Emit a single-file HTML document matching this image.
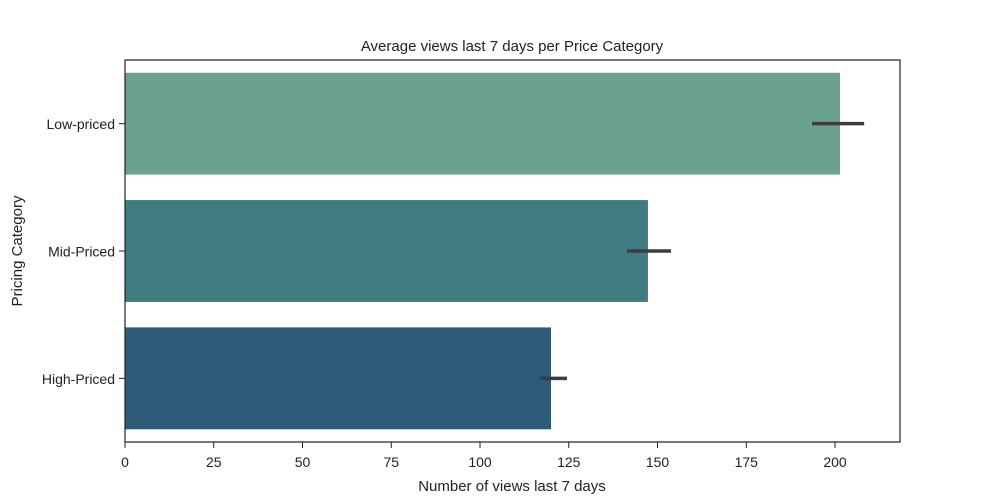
<!DOCTYPE html>
<html><head><meta charset="utf-8"><style>
body{margin:0;background:#fff;}
svg{display:block;font-family:"Liberation Sans","DejaVu Sans",sans-serif;}
</style></head><body>
<svg id="chart" width="1000" height="500">
<text x="512" y="51" text-anchor="middle" font-size="15" fill="#222">Average views last 7 days per Price Category</text>
<g id="bars"></g>
<g id="xticks"></g>
<g id="yticks"></g>
<rect x="125" y="60" width="775" height="382" fill="none" stroke="#222" stroke-width="1.2"/>
<text x="512" y="491" text-anchor="middle" font-size="15" fill="#222">Number of views last 7 days</text>
<text transform="translate(22,251) rotate(-90)" text-anchor="middle" font-size="15" fill="#222">Pricing Category</text>
</svg>
<script>
const categories=["Low-priced","Mid-Priced","High-Priced"];
const values=[201.4,147.3,120.0];
const errLow=[193.5,141.4,116.9];
const errHigh=[208.2,153.8,124.5];
const xTicks=[0,25,50,75,100,125,150,175,200];
const colors=["#6aa28f","#3f7b81","#2d5b78"];
const L=125,T=60,W=775,H=382,XMAX=218.3;
const x=v=>L+v/XMAX*W;
const band=H/categories.length;
const y=i=>T+band*(i+0.5);
const NS="http://www.w3.org/2000/svg";
function mk(t,a,p){const e=document.createElementNS(NS,t);for(const k in a)e.setAttribute(k,a[k]);p.appendChild(e);return e;}
const gb=document.getElementById('bars'),gx=document.getElementById('xticks'),gy=document.getElementById('yticks');
categories.forEach((c,i)=>{
 const bh=band*0.8;
 const r=mk('rect',{x:x(0),y:y(i)-bh/2,width:x(values[i])-x(0),height:bh,fill:colors[i]},gb);
 
 
 const e=mk('line',{x1:x(errLow[i]),x2:x(errHigh[i]),y1:y(i),y2:y(i),stroke:'#3d3d3d','stroke-width':3.5},gb);
 
 
 const tk=mk('line',{x1:L-6,x2:L,y1:y(i),y2:y(i),stroke:'#222'},gy);
 
 
 const t=mk('text',{x:L-10,y:y(i)+5.5,'text-anchor':'end','font-size':14,fill:'#222'},gy);
 t.textContent=c;
 
 
});
xTicks.forEach(v=>{
 const tk=mk('line',{x1:x(v),x2:x(v),y1:T+H,y2:T+H+6,stroke:'#222'},gx);
 
 
 const t=mk('text',{x:x(v),y:T+H+25,'text-anchor':'middle','font-size':14,fill:'#222'},gx);
 t.textContent=v;
 
 
});
</script>
</body></html>
